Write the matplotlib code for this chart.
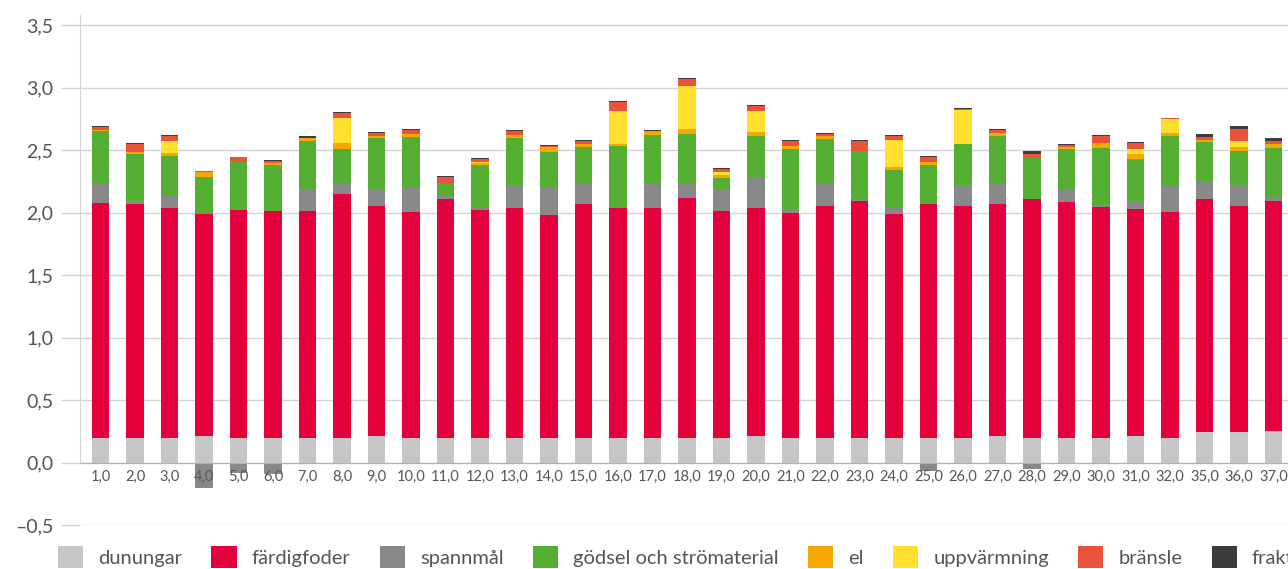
import numpy as np
import matplotlib
matplotlib.use("Agg")
import matplotlib.pyplot as plt

# --------------------------
# data

farms = [1, 2, 3, 4, 5, 6, 7, 8, 9, 10,
         11, 12, 13, 14, 15, 16, 17, 18, 19, 20,
         21, 22, 23, 24, 25, 26, 27, 28, 29, 30,
         31, 32, 35, 36, 37]
tick_labels = ["{},0".format(f) for f in farms]

dunungar = [0.20, 0.195, 0.20, 0.21, 0.20, 0.195, 0.20, 0.20, 0.21, 0.20,
            0.20, 0.20, 0.195, 0.20, 0.20, 0.20, 0.20, 0.20, 0.195, 0.21,
            0.20, 0.195, 0.195, 0.195, 0.20, 0.20, 0.21, 0.20, 0.20, 0.20,
            0.21, 0.20, 0.245, 0.245, 0.255]
fardigfoder = [1.875, 1.875, 1.84, 1.78, 1.82, 1.815, 1.815, 1.95, 1.845, 1.805,
               1.91, 1.82, 1.84, 1.78, 1.87, 1.84, 1.84, 1.92, 1.82, 1.83,
               1.80, 1.855, 1.895, 1.79, 1.87, 1.855, 1.855, 1.91, 1.885, 1.845,
               1.82, 1.805, 1.865, 1.81, 1.835]
spannmal = [0.165, 0.025, 0.10, -0.20, -0.085, -0.09, 0.17, 0.085, 0.135, 0.195,
            0.03, 0.025, 0.185, 0.215, 0.165, 0.0, 0.20, 0.11, 0.17, 0.245,
            0.025, 0.19, 0.015, 0.05, -0.07, 0.165, 0.175, -0.055, 0.095, 0.015,
            0.06, 0.21, 0.145, 0.165, 0.03]
godsel = [0.41, 0.37, 0.315, 0.295, 0.385, 0.37, 0.39, 0.275, 0.405, 0.405,
          0.095, 0.335, 0.375, 0.29, 0.29, 0.495, 0.38, 0.395, 0.09, 0.33,
          0.48, 0.345, 0.39, 0.305, 0.31, 0.325, 0.37, 0.33, 0.33, 0.455,
          0.34, 0.40, 0.31, 0.275, 0.40]
el = [0.01, 0.02, 0.025, 0.035, 0.0, 0.02, 0.02, 0.05, 0.015, 0.025,
      0.0, 0.02, 0.025, 0.04, 0.025, 0.015, 0.03, 0.04, 0.025, 0.03,
      0.03, 0.025, 0.0, 0.025, 0.025, 0.005, 0.025, 0.0, 0.015, 0.04,
      0.04, 0.025, 0.015, 0.03, 0.03]
uppvarmning = [0.0, 0.0, 0.095, 0.0, 0.0, 0.0, 0.0, 0.20, 0.0, 0.0,
               0.0, 0.005, 0.0, 0.0, 0.0, 0.265, 0.0, 0.35, 0.025, 0.17,
               0.0, 0.005, 0.0, 0.215, 0.0, 0.27, 0.0, 0.0, 0.0, 0.0,
               0.04, 0.11, 0.0, 0.05, 0.0]
bransle = [0.025, 0.06, 0.035, 0.01, 0.035, 0.015, 0.0, 0.035, 0.025, 0.03,
           0.05, 0.025, 0.03, 0.01, 0.025, 0.065, 0.005, 0.05, 0.02, 0.04,
           0.04, 0.01, 0.08, 0.035, 0.04, 0.01, 0.025, 0.03, 0.015, 0.055,
           0.05, 0.005, 0.025, 0.09, 0.025]
frakt = [0.008, 0.008, 0.007, 0.005, 0.005, 0.008, 0.015, 0.008, 0.008, 0.008,
         0.008, 0.008, 0.012, 0.006, 0.006, 0.008, 0.008, 0.008, 0.008, 0.008,
         0.008, 0.008, 0.008, 0.007, 0.008, 0.008, 0.008, 0.025, 0.008, 0.008,
         0.008, 0.005, 0.025, 0.025, 0.025]

series_names = ["dunungar", "färdigfoder", "spannmål", "gödsel och strömaterial",
                "el", "uppvärmning", "bränsle", "frakt"]
series_values = [dunungar, fardigfoder, spannmal, godsel, el, uppvarmning, bransle, frakt]
series_colors = ["#c6c6c6", "#e4003b", "#898989", "#53ae32",
                 "#f6a800", "#ffe12d", "#e9533c", "#3c3c3c"]

# --------------------------

plt.rcParams['font.family'] = ['Lato', 'DejaVu Sans']
text_color = "#555555"
grid_color = "#d4d4d4"

fig = plt.figure(figsize=(12.88, 5.69), dpi=100)
ax = fig.add_axes([80 / 1288, 44 / 569, 1 - 80 / 1288, 510 / 569])

x = np.arange(len(farms))
pos_bottom = np.zeros(len(farms))
neg_bottom = np.zeros(len(farms))
handles = []
for name, vals, col in zip(series_names, series_values, series_colors):
    vals = np.array(vals)
    bottom = np.where(vals >= 0, pos_bottom, neg_bottom)
    b = ax.bar(x, vals, width=0.51, bottom=bottom, color=col, linewidth=0, label=name, zorder=2)
    handles.append(b)
    pos_bottom += np.where(vals >= 0, vals, 0)
    neg_bottom += np.where(vals < 0, vals, 0)

ax.set_xlim(-0.594, 34.42)
ax.set_ylim(-0.5, 3.58)
ax.set_axisbelow(False)

yticks = [-0.5, 0, 0.5, 1.0, 1.5, 2.0, 2.5, 3.0, 3.5]
for v in yticks:
    ax.axhline(v, color=grid_color, linewidth=1, zorder=1)
ax.set_yticks(yticks)
ax.set_yticklabels([("{:.1f}".format(v)).replace(".", ",").replace("-", "\u2013") for v in yticks])
ax.tick_params(axis='y', length=14, width=1, color=grid_color, pad=5, labelsize=14, labelcolor=text_color)

ax.set_xticks(x)
ax.set_xticklabels(tick_labels)
ax.tick_params(axis='x', length=0, pad=5, labelsize=10.5, labelcolor=text_color)

ax.spines['top'].set_visible(False)
ax.spines['right'].set_visible(False)
ax.spines['left'].set_color(grid_color)
ax.spines['left'].set_bounds(0, 3.58)
ax.spines['bottom'].set_position(('data', 0))
ax.spines['bottom'].set_color("#b0b0b0")

# legend runs past the right edge, like in the reference
fig.legend(handles=handles, labels=series_names, loc='center left',
           bbox_to_anchor=(58 / 1288, 1 - 557 / 569), bbox_transform=fig.transFigure,
           ncol=8, frameon=False, fontsize=14.5, labelcolor=text_color,
           handlelength=1.25, handleheight=1.25, handletextpad=0.75,
           columnspacing=1.45, borderpad=0, borderaxespad=0)

plt.savefig("out.png", dpi=100)
